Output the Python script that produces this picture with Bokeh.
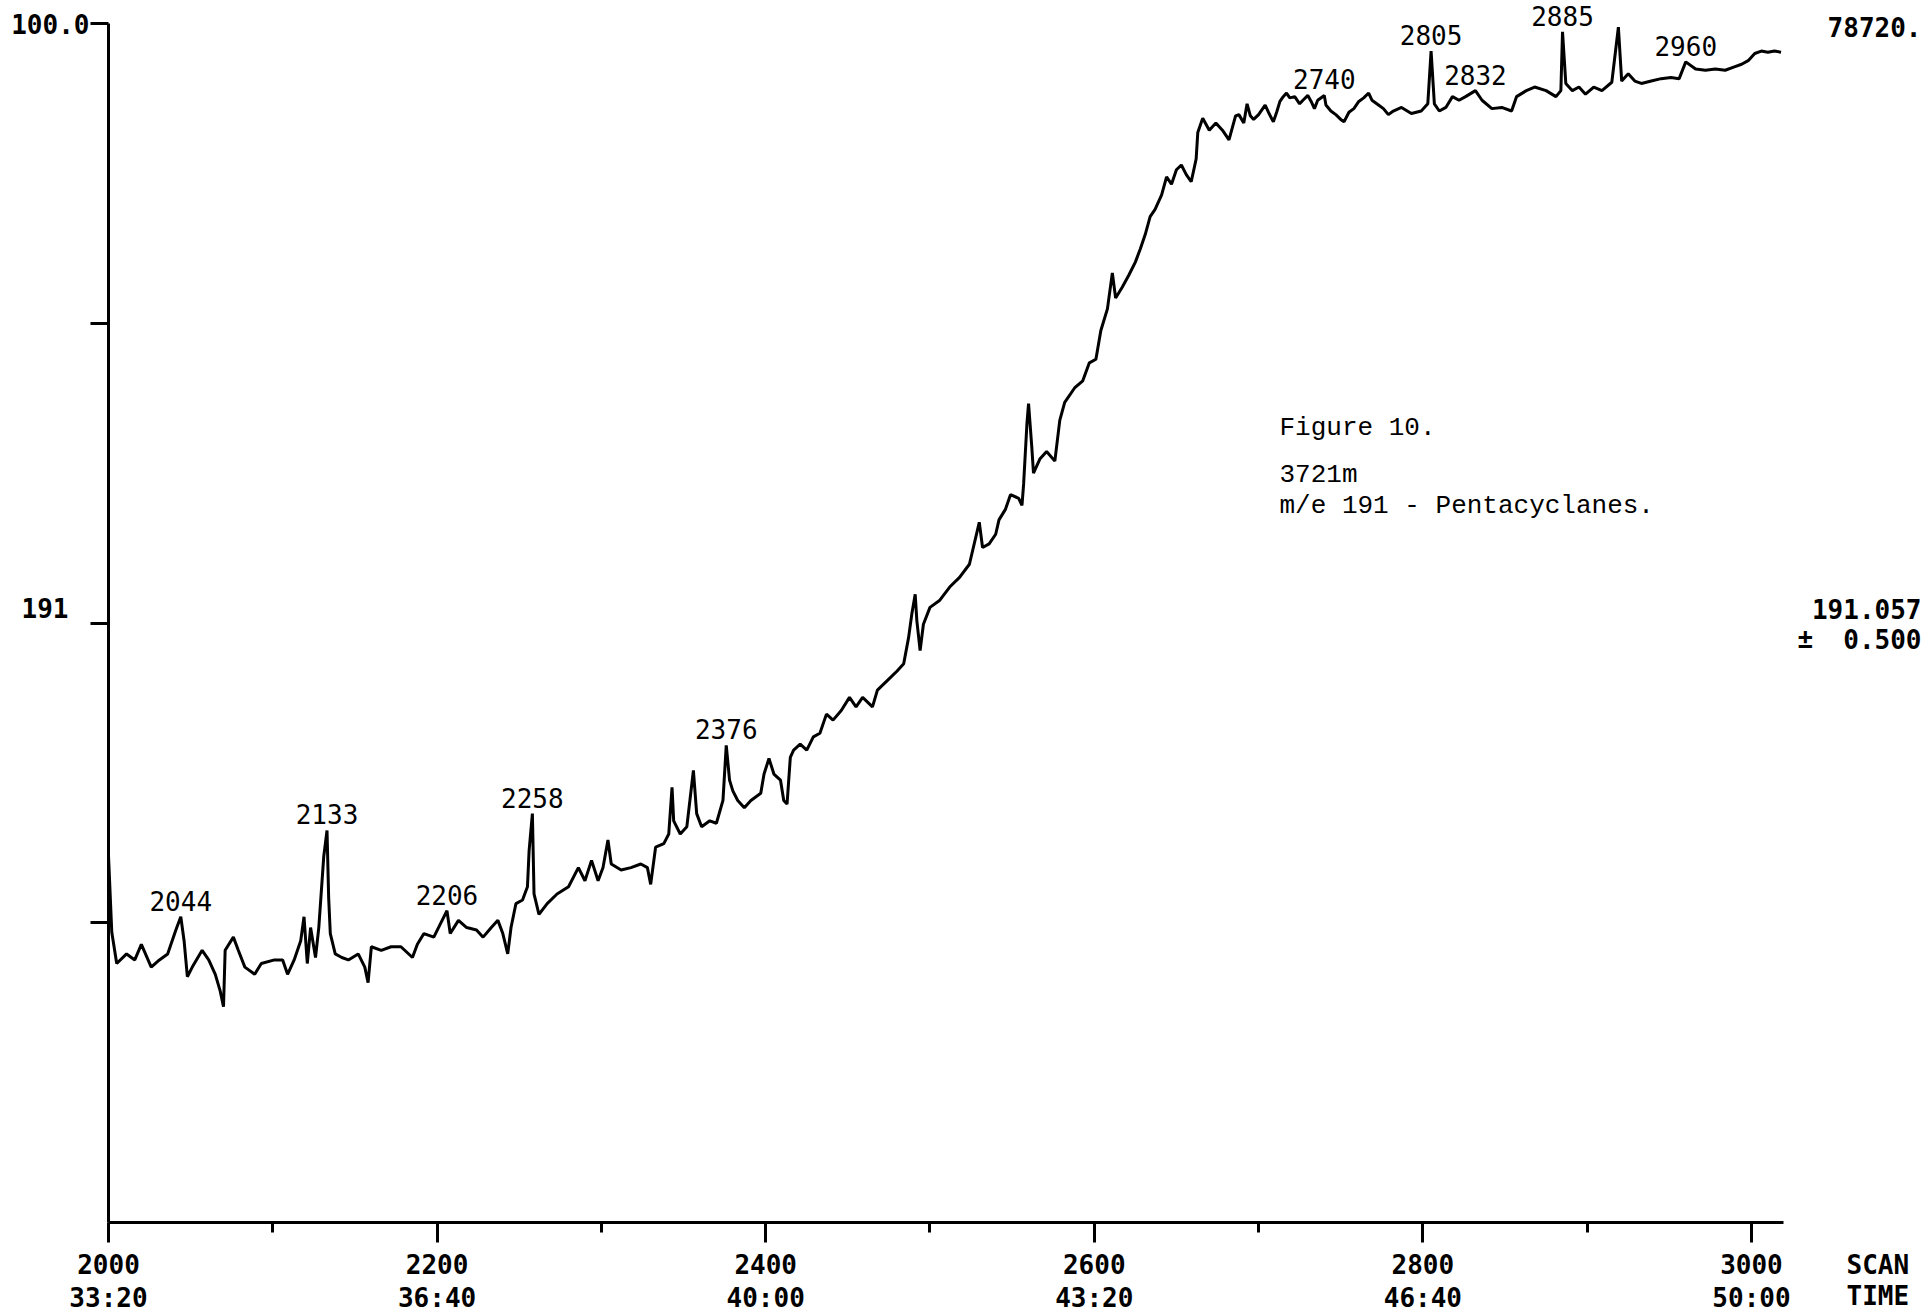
from bokeh.plotting import figure
from bokeh.models import ColumnDataSource, FixedTicker, LinearAxis, Label, LabelSet, Range1d
from bokeh.core.properties import value
from bokeh.embed import file_html
from bokeh.resources import INLINE

# m/e 191 mass chromatogram, scans 2000-3018 (relative intensity, % of full scale)
scans = [
    2000, 2002, 2005, 2011, 2016, 2020, 2026, 2031, 2036, 2041, 2044, 2046, 2048, 2051,
    2057, 2061, 2065, 2068, 2070, 2071, 2076, 2079, 2083, 2089, 2093, 2101, 2106, 2109,
    2113, 2117, 2119, 2121, 2123, 2126, 2128, 2131, 2133, 2134, 2135, 2138, 2142, 2146,
    2152, 2156, 2158, 2160, 2166, 2172, 2178, 2185, 2188, 2192, 2198, 2202, 2206, 2208,
    2213, 2218, 2224, 2228, 2233, 2237, 2240, 2243, 2245, 2248, 2252, 2255, 2256, 2258,
    2259, 2262, 2267, 2273,
    2280, 2286, 2290, 2294, 2298, 2301, 2304, 2306, 2312, 2318, 2324, 2328, 2330, 2333,
    2338, 2341, 2343, 2344, 2348, 2352, 2356, 2358, 2361, 2366, 2370, 2374, 2376, 2378,
    2380, 2383, 2387, 2391, 2397, 2399, 2402, 2405, 2409, 2411, 2413, 2415, 2417, 2421,
    2425, 2429, 2433, 2437, 2441, 2446, 2451, 2455, 2459, 2465, 2468, 2474, 2480, 2484,
    2487, 2489, 2491, 2492, 2494, 2496, 2500, 2506, 2512, 2518, 2524, 2530, 2532, 2536,
    2540,
    2542, 2546, 2549, 2554, 2556, 2557, 2559, 2560, 2562, 2563, 2567, 2571, 2576, 2579,
    2582, 2588, 2593, 2597, 2601, 2604, 2608, 2611, 2613, 2617, 2621, 2625, 2628, 2631,
    2634, 2637, 2641, 2644, 2647, 2650, 2653, 2656, 2659, 2662, 2663, 2666, 2670, 2674,
    2678, 2682, 2686, 2688, 2691, 2693, 2695, 2697, 2700, 2704, 2706, 2709, 2711, 2713,
    2715, 2717, 2719, 2722, 2725, 2727, 2730, 2732, 2734, 2736, 2740, 2741, 2744, 2747,
    2750, 2752, 2755, 2758, 2761, 2764, 2767, 2769, 2773, 2776, 2779, 2782,
    2787, 2793, 2799, 2803, 2805, 2807, 2810, 2814, 2818, 2822, 2826, 2832, 2836, 2842,
    2848, 2854, 2857, 2863, 2868, 2875, 2881, 2884, 2885, 2887, 2891, 2895, 2899, 2904,
    2909, 2915, 2919, 2921, 2925, 2929, 2933, 2939, 2945, 2951, 2956, 2960, 2966, 2972,
    2978, 2984, 2990, 2994, 2998, 3002, 3006, 3010, 3014, 3018,
]
intensity = [
    30.6, 24.2, 21.6, 22.4, 21.9, 23.2, 21.3, 21.9, 22.4, 24.4, 25.5, 23.5, 20.5, 21.3,
    22.7, 21.9, 20.7, 19.3, 18.0, 22.7, 23.8, 22.7, 21.3, 20.7, 21.6, 21.9, 21.9, 20.7,
    21.9, 23.5, 25.5, 21.6, 24.6, 22.1, 24.6, 30.5, 32.7, 27.1, 24.1, 22.4, 22.1, 21.9,
    22.4, 21.3, 20.0, 23.0, 22.7, 23.0, 23.0, 22.1, 23.2, 24.1, 23.8, 24.9, 26.0, 24.1,
    25.2, 24.6, 24.4, 23.8, 24.6, 25.2, 24.1, 22.4, 24.6, 26.6, 26.9, 28.0, 31.0, 34.1,
    27.4, 25.7, 26.6, 27.4,
    28.0, 29.6, 28.5, 30.2, 28.5, 29.6, 31.9, 29.9, 29.4, 29.6, 29.9, 29.6, 28.2, 31.3,
    31.6, 32.4, 36.3, 33.5, 32.4, 33.0, 37.7, 34.1, 33.0, 33.5, 33.3, 35.2, 39.8, 36.9,
    36.0, 35.2, 34.6, 35.2, 35.8, 37.4, 38.7, 37.4, 36.9, 35.2, 34.9, 38.8, 39.4, 39.9,
    39.4, 40.5, 40.8, 42.4, 41.9, 42.7, 43.8, 43.0, 43.8, 43.0, 44.4, 45.2, 46.0, 46.6,
    48.8, 50.8, 52.4, 50.2, 47.7, 49.9, 51.3, 51.9, 53.0, 53.8, 54.9, 58.4, 56.3, 56.6,
    57.4,
    58.6, 59.5, 60.7, 60.4, 59.8, 61.6, 66.6, 68.3, 64.6, 62.5, 63.7, 64.3, 63.5, 66.9,
    68.4, 69.6, 70.2, 71.7, 72.0, 74.4, 76.2, 79.2, 77.1, 78.0, 79.0, 80.1, 81.2, 82.4,
    83.9, 84.5, 85.7, 87.2, 86.6, 87.8, 88.2, 87.4, 86.8, 88.7, 90.9, 92.1, 91.1, 91.7,
    91.1, 90.3, 92.3, 92.4, 91.7, 93.3, 92.3, 92.0, 92.4, 93.2, 92.6, 91.8, 92.6, 93.5,
    93.9, 94.2, 93.8, 93.9, 93.3, 93.6, 94.0, 93.5, 92.9, 93.6, 94.0, 93.2, 92.7, 92.4,
    92.0, 91.8, 92.6, 92.9, 93.5, 93.8, 94.2, 93.6, 93.2, 92.9, 92.4, 92.7,
    93.0, 92.5, 92.7, 93.3, 97.7, 93.3, 92.7, 93.0, 93.9, 93.6, 93.9, 94.4, 93.6, 92.9,
    93.0, 92.7, 93.9, 94.4, 94.7, 94.4, 93.9, 94.4, 99.3, 95.0, 94.4, 94.7, 94.1, 94.7,
    94.4, 95.1, 99.7, 95.2, 95.8, 95.2, 95.0, 95.2, 95.4, 95.5, 95.4, 96.8, 96.2, 96.1,
    96.2, 96.1, 96.4, 96.6, 96.9, 97.5, 97.7, 97.6, 97.7, 97.6,
]

# labelled scan numbers
peak_scans = [2044, 2133, 2206, 2258, 2376, 2740, 2805, 2832, 2885, 2960]

# axis ticks and their labels
x_major = [2000, 2200, 2400, 2600, 2800, 3000]
x_minor = [2100, 2300, 2500, 2700, 2900]
scan_tick_labels = ["2000", "2200", "2400", "2600", "2800", "3000"]
time_tick_labels = ["33:20", "36:40", "40:00", "43:20", "46:40", "50:00"]
y_ticks = [25, 50, 75, 100]
y_tick_labels = ["", "", "", "100.0"]

full_scale = "78720."
mass_label = "191"
mass_exact = "191.057"
mass_window = ["\u00b1", "0.500"]
axis_name = ["SCAN", "TIME"]
caption = ["Figure 10.", "3721m", "m/e 191 - Pentacyclanes."]

# page geometry: where the scan/intensity box sits on the page (pixels)
W, H = 1926, 1313
LEFT, RIGHT, TOP, BOTTOM = 108, 1783, 23, 1222
X0, X1 = 2000, 3019.5
Y0, Y1 = 0, 100


def dx(px):
    return X0 + (px - LEFT) * (X1 - X0) / (RIGHT - LEFT)


def dy(py):
    return Y0 + (BOTTOM - py) * (Y1 - Y0) / (BOTTOM - TOP)


# the plotting frame covers the whole page; axes are pinned inside it
p = figure(width=W, height=H,
           x_range=Range1d(dx(0), dx(W)), y_range=Range1d(dy(H), dy(0)),
           output_backend="svg", toolbar_location=None,
           x_axis_type=None, y_axis_type=None,
           min_border=0, min_border_left=0, min_border_right=0,
           min_border_top=0, min_border_bottom=0)
p.outline_line_color = None
p.background_fill_color = "white"
p.border_fill_color = "white"

PLOT_FONT = "DejaVu Sans Mono"
TYPE_FONT = "Liberation Mono"

axis_style = dict(axis_line_width=3, axis_line_color="black",
                  major_tick_line_width=3, major_tick_line_color="black",
                  minor_tick_line_width=3, minor_tick_line_color="black",
                  major_tick_in=0, minor_tick_in=0,
                  major_label_text_font=PLOT_FONT,
                  major_label_text_font_style="bold",
                  major_label_text_font_size="26px",
                  major_label_text_color="black")

# scan-number axis
xaxis = LinearAxis(ticker=FixedTicker(ticks=x_major, minor_ticks=x_minor),
                   fixed_location=Y0, bounds=(X0, X1),
                   major_tick_out=20, minor_tick_out=10,
                   major_label_standoff=11, **axis_style)
xaxis.major_label_overrides = dict(zip(x_major, scan_tick_labels))
p.add_layout(xaxis, "below")

# retention-time row under the scan numbers
taxis = LinearAxis(ticker=FixedTicker(ticks=x_major, minor_ticks=[]),
                   fixed_location=Y0, bounds=(X0, X1),
                   major_tick_out=0, minor_tick_out=0,
                   major_label_standoff=60, **axis_style)
taxis.axis_line_color = None
taxis.major_tick_line_color = None
taxis.minor_tick_line_color = None
taxis.major_label_overrides = dict(zip(x_major, time_tick_labels))
p.add_layout(taxis, "below")

# intensity axis
yaxis = LinearAxis(ticker=FixedTicker(ticks=y_ticks, minor_ticks=[]),
                   fixed_location=X0, bounds=(Y0, Y1),
                   major_tick_out=18, minor_tick_out=0,
                   major_label_standoff=1, **axis_style)
yaxis.major_label_overrides = dict(zip(y_ticks, y_tick_labels))
p.add_layout(yaxis, "left")

# the trace
p.line(scans, intensity, line_color="black", line_width=3)

# peak annotations
peak_heights = [intensity[scans.index(s)] for s in peak_scans]
peak_src = ColumnDataSource(dict(x=peak_scans, y=peak_heights,
                                 text=[str(s) for s in peak_scans]))
p.add_layout(LabelSet(x="x", y="y", text="text", source=peak_src,
                      y_offset=6, text_align="center", text_baseline="alphabetic",
                      text_font=value(PLOT_FONT), text_font_size=value("26px"),
                      text_color="black"))


def put(text, px, py, align="left", font=PLOT_FONT, size="26px", style="bold"):
    p.add_layout(Label(x=dx(px), y=dy(py), text=text, text_align=align,
                       text_baseline="middle", text_font=font,
                       text_font_size=size, text_font_style=style,
                       text_color="black"))


put(mass_label, 68, 607, align="right")
put(full_scale, 1921, 26, align="right")
put(mass_exact, 1921, 608, align="right")
put(mass_window[0], 1797, 638)
put(mass_window[1], 1921, 638, align="right")
put(axis_name[0], 1846, 1264)
put(axis_name[1], 1846, 1295)

for text, py in zip(caption, [427, 474, 505]):
    put(text, 1279, py, font=TYPE_FONT, size="26px", style="normal")

open("out.html", "w").write(file_html(p, INLINE))
